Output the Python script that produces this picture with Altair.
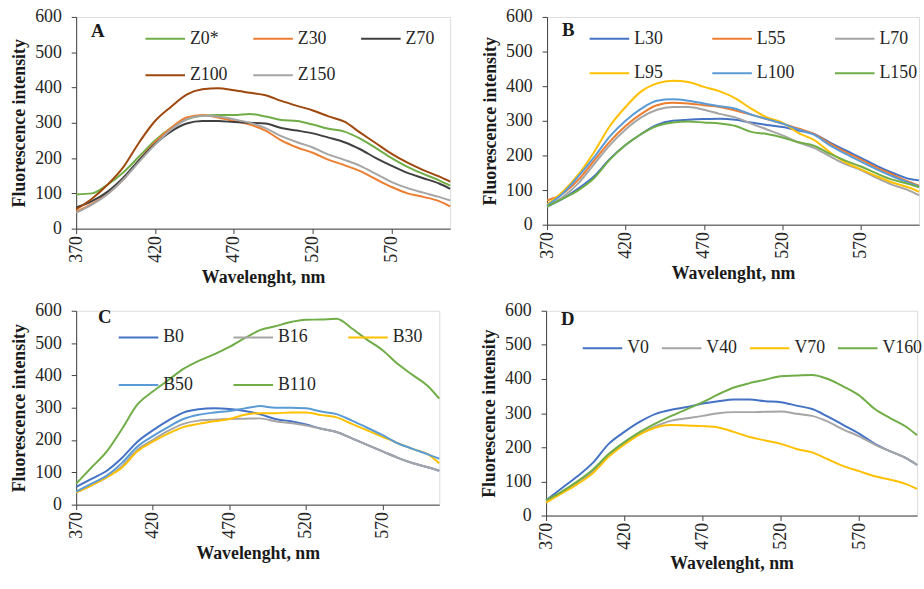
import altair as alt
import pandas as pd

WL = [370, 380, 390, 400, 410, 420, 430, 440, 450, 460, 470, 480, 490, 500,
      510, 520, 530, 540, 550, 560, 570, 580, 590, 600, 607]

# Panel A
A_names = ["Z0*", "Z30", "Z70", "Z100", "Z150"]
A_colors = ["#70AD47", "#ED7D31", "#404040", "#9E480E", "#A5A5A5"]
Z0 = [97, 100, 125, 160, 205, 250, 285, 310, 320, 322, 322, 325, 318, 308, 305, 295, 283, 275, 255, 228, 200, 175, 155, 137, 122]
Z30 = [48, 70, 100, 140, 195, 245, 285, 315, 322, 315, 305, 295, 278, 250, 230, 215, 195, 180, 163, 140, 118, 100, 90, 78, 63]
Z70 = [60, 78, 105, 145, 195, 240, 275, 298, 305, 305, 302, 300, 298, 285, 278, 270, 258, 245, 225, 200, 178, 158, 143, 128, 113]
Z100 = [55, 85, 125, 175, 245, 305, 345, 380, 395, 398, 392, 385, 378, 362, 348, 335, 318, 303, 272, 242, 212, 187, 166, 148, 133]
Z150 = [45, 68, 98, 140, 190, 238, 280, 310, 320, 318, 310, 300, 285, 262, 245, 230, 210, 195, 178, 155, 132, 115, 102, 90, 80]

# Panel B
B_names = ["L30", "L55", "L70", "L95", "L100", "L150"]
B_colors = ["#4472C4", "#ED7D31", "#A5A5A5", "#FFC000", "#5B9BD5", "#70AD47"]
L30 = [52, 75, 105, 140, 190, 230, 262, 288, 300, 303, 305, 306, 303, 295, 288, 282, 272, 262, 238, 215, 193, 170, 150, 133, 128]
L55 = [70, 90, 130, 185, 240, 285, 320, 345, 352, 350, 345, 340, 330, 318, 305, 292, 278, 262, 235, 210, 188, 165, 145, 125, 113]
L70 = [52, 80, 120, 175, 230, 275, 310, 332, 340, 340, 332, 320, 310, 292, 275, 258, 238, 222, 198, 175, 158, 135, 115, 100, 85]
L95 = [58, 95, 145, 210, 285, 340, 385, 408, 416, 412, 398, 385, 365, 335, 310, 295, 265, 245, 210, 180, 160, 140, 122, 108, 95]
L100 = [55, 90, 140, 195, 255, 300, 335, 358, 362, 358, 350, 342, 335, 318, 305, 292, 275, 260, 230, 205, 182, 160, 140, 122, 110]
L150 = [52, 75, 100, 135, 188, 230, 262, 285, 295, 298, 295, 292, 285, 268, 262, 252, 238, 228, 205, 185, 168, 148, 130, 118, 108]

# Panel C
C_names = ["B0", "B16", "B30", "B50", "B110"]
C_colors = ["#4472C4", "#A5A5A5", "#FFC000", "#5B9BD5", "#70AD47"]
B0 = [55, 80, 105, 145, 195, 230, 260, 285, 295, 298, 296, 290, 280, 265, 258, 248, 235, 225, 205, 185, 165, 145, 128, 115, 105]
B16 = [38, 60, 85, 120, 170, 200, 228, 250, 260, 263, 265, 266, 267, 258, 253, 245, 235, 225, 205, 185, 165, 145, 128, 115, 105]
B30 = [38, 60, 85, 115, 165, 195, 220, 240, 250, 258, 265, 278, 283, 283, 285, 285, 277, 270, 250, 230, 210, 190, 172, 155, 128]
B50 = [40, 65, 90, 130, 180, 212, 240, 265, 278, 285, 290, 298, 305, 300, 300, 298, 288, 280, 260, 238, 215, 190, 172, 155, 142]
B110 = [65, 115, 165, 235, 310, 350, 385, 420, 445, 465, 488, 515, 540, 552, 565, 572, 573, 575, 545, 510, 478, 435, 400, 365, 328]

# Panel D
D_names = ["V0", "V40", "V70", "V160"]
D_colors = ["#4472C4", "#A5A5A5", "#FFC000", "#70AD47"]
V0 = [45, 80, 115, 155, 210, 245, 275, 298, 310, 318, 328, 335, 340, 340, 335, 332, 322, 312, 290, 265, 240, 210, 188, 168, 148]
V40 = [42, 68, 98, 130, 175, 212, 240, 262, 278, 285, 292, 300, 303, 303, 304, 305, 298, 292, 275, 252, 232, 208, 188, 168, 148]
V70 = [38, 65, 92, 125, 172, 208, 238, 258, 265, 264, 262, 258, 245, 230, 220, 210, 195, 185, 165, 145, 130, 115, 105, 92, 78]
V160 = [45, 70, 100, 135, 180, 215, 245, 270, 292, 312, 332, 355, 375, 388, 398, 408, 410, 412, 400, 378, 352, 312, 285, 260, 235]

X_TICKS = [370, 420, 470, 520, 570]
Y_TICKS = [0, 100, 200, 300, 400, 500, 600]

FONT = "Liberation Serif"
AXC = "#404040"


def long_df(names, series):
    rows = []
    for n, s in zip(names, series):
        for w, v in zip(WL, s):
            rows.append({"wl": w, "val": v, "series": n})
    return pd.DataFrame(rows)


def panel(letter, names, colors, series, w, h, lx, ly, cols, colpad, rowpad, letter_x, letter_y):
    df = long_df(names, series)
    x = alt.X("wl:Q", scale=alt.Scale(domain=[370, 607], nice=False, zero=False),
              axis=alt.Axis(values=X_TICKS, labelAngle=270, title="Wavelenght, nm",
                            grid=False, tickSize=5, labelPadding=2, titlePadding=6,
                            domainColor=AXC, tickColor=AXC, labelColor="#262626",
                            labelFont=FONT, labelFontSize=18, titleFont=FONT,
                            titleFontSize=18, titleFontWeight="bold", titleColor="#1a1a1a"))
    y = alt.Y("val:Q", scale=alt.Scale(domain=[0, 600], nice=False),
              axis=alt.Axis(values=Y_TICKS, title="Fluorescence intensity", grid=False,
                            tickSize=5, labelPadding=10, titlePadding=6,
                            domainColor=AXC, tickColor=AXC, labelColor="#262626",
                            labelFont=FONT, labelFontSize=18, titleFont=FONT,
                            titleFontSize=18, titleFontWeight="bold", titleColor="#1a1a1a"))
    leg = alt.Legend(orient="none", legendX=lx, legendY=ly, columns=cols, title=None,
                     direction="horizontal",
                     symbolType="stroke", symbolSize=1600, symbolStrokeWidth=2,
                     labelFont=FONT, labelFontSize=18, labelColor="#262626",
                     labelOffset=4, columnPadding=colpad, rowPadding=rowpad,
                     gridAlign="each" if cols == 4 else "all")
    lines = alt.Chart(df).mark_line(strokeWidth=2, interpolate="monotone").encode(
        x=x, y=y,
        color=alt.Color("series:N", scale=alt.Scale(domain=names, range=colors), legend=leg),
        order=alt.Order("wl:Q"),
        detail="series:N",
    )
    lab = alt.Chart(pd.DataFrame({"t": [letter]})).mark_text(
        font=FONT, fontSize=19, fontWeight="bold", color="#1a1a1a", align="left",
        baseline="middle").encode(x=alt.value(letter_x), y=alt.value(letter_y), text="t:N")
    return alt.layer(lines, lab).properties(width=w, height=h)


pA = panel("A", A_names, A_colors, [Z0, Z30, Z70, Z100, Z150], 378, 214, 69, 1, 3, 22, 7, 15, 14)
pB = panel("B", B_names, B_colors, [L30, L55, L70, L95, L100, L150], 376, 210, 42, 1, 3, 37, 5, 15, 13)
pC = panel("C", C_names, C_colors, [B0, B16, B30, B50, B110], 367, 196, 42, 6, 3, 28, 18, 22, 6)
pD = panel("D", D_names, D_colors, [V0, V40, V70, V160], 375, 207, 36, 17, 4, 9, 10, 15, 8)

top = alt.hconcat(pA, pB, spacing=26).resolve_scale(color="independent")
bot = alt.hconcat(pC, pD, spacing=36).resolve_scale(color="independent")
chart = alt.vconcat(top, bot, spacing=14).resolve_scale(color="independent").properties(
    padding={"left": 10, "top": 4, "right": 0, "bottom": 0}
).configure_view(stroke=None).configure(background="white")

chart.save("out.html", embed_options={"renderer": "svg", "actions": False})
